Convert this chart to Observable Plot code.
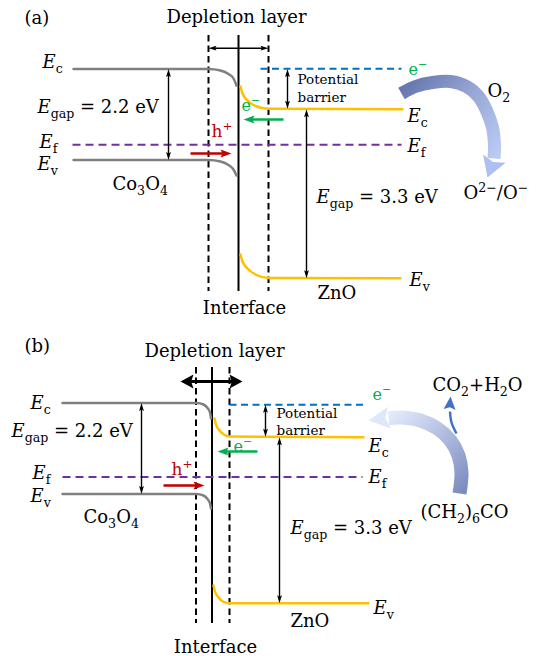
<!DOCTYPE html>
<html><head><meta charset="utf-8">
<script src="https://cdn.jsdelivr.net/npm/d3@7"></script>
<script src="https://cdn.jsdelivr.net/npm/@observablehq/plot@0.6"></script>
<style>html,body{margin:0;padding:0;background:#fff} svg{display:block}</style>
</head><body><div id="chart"></div>
<script>
// ---------- diagram data (diagram coordinates) ----------
// Co3O4 bands (grey), band bending near interface
const co3o4EcA = [[73,68.5],[208,68.5],[220,70],[228,73.5],[233,78],[236,85]];
const co3o4EvA = [[73,159.5],[208,159.5],[220,161],[228,164.5],[233,169],[236,175]];
const co3o4EcB = [[62,402.5],[196,402.5],[203,404],[207,407.5],[209.5,412],[210.5,418]];
const co3o4EvB = [[62,493.5],[196,493.5],[203,495],[207,498.5],[209.5,503],[210.5,508]];
// ZnO bands (yellow)
const znoEcA = [[240,86],[242,93],[247,100],[255,105.5],[268,108.3],[402,108.7]];
const znoEvA = [[240,254],[242,261],[247,268],[255,274],[268,277.5],[400,277.8]];
const znoEcB = [[214,418],[215.5,424],[219,430],[223.5,434],[229,436],[363,436.7]];
const znoEvB = [[213,585],[214.5,591],[218,597],[222.5,601],[229,602.7],[368,602.7]];
// Fermi level and vacuum/e- level (dashed)
const fermiLevels = [{x1:72,y1:144.3,x2:401,y2:144.3},{x1:62,y1:476.5,x2:362,y2:476.5}];
const electronLevels = [{x1:260,y1:68.3,x2:401,y2:68.3},{x1:229,y1:404.3,x2:366,y2:404.3}];
// depletion boundaries and interface
const depletionEdges = [{x:208,y1:35,y2:291},{x:268,y1:35,y2:291},{x:195.5,y1:367,y2:623},{x:229,y1:367,y2:623}];
const interfaces = [{x:238,y1:35,y2:291},{x:211.5,y1:367,y2:623}];
// arrows
const thinArrows = [
  {x1:208,y1:47.7,x2:268,y2:47.7,both:true},
  {x1:168,y1:68.5,x2:168,y2:159.5,both:true},
  {x1:287,y1:68.5,x2:287,y2:108.3,both:true},
  {x1:306,y1:108.7,x2:306,y2:277.8,both:true},
  {x1:141,y1:402.5,x2:141,y2:493.5,both:true},
  {x1:265,y1:404.3,x2:265,y2:436.3,both:true},
  {x1:279,y1:436.7,x2:279,y2:602.7,both:true}
];
const thickArrows = [{x1:180,y1:381,x2:242,y2:381,both:true}];
const holeArrows = [{x1:190,y1:153,x2:231,y2:153},{x1:163,y1:485,x2:204,y2:485}];
const electronArrows = [{x1:283,y1:119,x2:243,y2:119},{x1:257,y1:451,x2:217,y2:451}];
// curved reaction arrows
const oxygenArrow = [[401,93],[415,86],[432,82],[450,81],[466,86],[478,96],[486,110],[492,127],[494,145],[493.5,158]];
const oxygenHead = [{x:487,y:177,angle:200}];
const ketoneArrow = [[459,493],[461,472],[458,455],[450,440],[437,428],[420,420],[402,417],[388,417.5]];
const ketoneHead = [{x:368,y:420,angle:262}];
const productArrow = [[456,433],[451,422],[449.5,411]];
const productHead = [{x:450,y:396,angle:4}];
// labels
const labels = [
  {t:"(a)",x:24,y:18},
  {t:"*E*_{c}",x:42,y:62},
  {t:"*E*_{gap} = 2.2 eV",x:37,y:107},
  {t:"*E*_{f}",x:39,y:142},
  {t:"*E*_{v}",x:37,y:164},
  {t:"Co_{3}O_{4}",x:112,y:184},
  {t:"*E*_{c}",x:407,y:116},
  {t:"*E*_{f}",x:407,y:146},
  {t:"O_{2}",x:487,y:91},
  {t:"*E*_{gap} = 3.3 eV",x:316,y:197},
  {t:"O^{2−}/O^{−}",x:463,y:193},
  {t:"*E*_{v}",x:409,y:280},
  {t:"ZnO",x:317,y:293},
  {t:"(b)",x:24,y:346},
  {t:"*E*_{c}",x:30,y:403},
  {t:"*E*_{gap} = 2.2 eV",x:11,y:431},
  {t:"*E*_{f}",x:32,y:473},
  {t:"*E*_{v}",x:30,y:496},
  {t:"Co_{3}O_{4}",x:83,y:517},
  {t:"*E*_{c}",x:368,y:446},
  {t:"*E*_{f}",x:368,y:477},
  {t:"CO_{2}+H_{2}O",x:432,y:385},
  {t:"(CH_{2})_{6}CO",x:420,y:512},
  {t:"*E*_{gap} = 3.3 eV",x:290,y:528},
  {t:"*E*_{v}",x:373,y:608},
  {t:"ZnO",x:290,y:621}
];
const centeredLabels = [
  {t:"Depletion layer",x:236,y:17},
  {t:"Interface",x:244,y:308},
  {t:"Depletion layer",x:214,y:351},
  {t:"Interface",x:215,y:647}
];
const barrierLabels = [
  {t:"Potential",x:297,y:79},{t:"barrier",x:297,y:97},
  {t:"Potential",x:276,y:413},{t:"barrier",x:276,y:430}
];
const holeLabels = [{t:"h^{+}",x:211,y:131},{t:"h^{+}",x:171,y:469}];
const electronLabels = [{t:"e^{−}",x:241,y:105},{t:"e^{−}",x:408,y:69},{t:"e^{−}",x:233,y:446},{t:"e^{−}",x:372,y:394}];

// ---------- helpers ----------
const rows = (id, pts) => pts.map(([x, y]) => ({id, x, y}));
const makeHead = (len, hw) => ({
  draw(ctx) { ctx.moveTo(0, 0); ctx.lineTo(-hw, len); ctx.lineTo(0, len * 0.82); ctx.lineTo(hw, len); ctx.closePath(); }
});
function arrowMarks(data, {stroke = "black", strokeWidth = 1.3, len = 8, hw = 2.4} = {}) {
  const shafts = [], heads = [];
  for (const d of data) {
    const dx = d.x2 - d.x1, dy = d.y2 - d.y1, L = Math.hypot(dx, dy), ux = dx / L, uy = dy / L;
    const cut = len * 0.7;
    const s = d.both ? [d.x1 + ux * cut, d.y1 + uy * cut] : [d.x1, d.y1];
    shafts.push({x1: s[0], y1: s[1], x2: d.x2 - ux * cut, y2: d.y2 - uy * cut});
    const ang = Math.atan2(ux, -uy) * 180 / Math.PI;
    heads.push({x: d.x2, y: d.y2, a: ang});
    if (d.both) heads.push({x: d.x1, y: d.y1, a: ang + 180});
  }
  return [
    Plot.link(shafts, {x1: "x1", y1: "y1", x2: "x2", y2: "y2", stroke, strokeWidth}),
    Plot.dot(heads, {x: "x", y: "y", rotate: "a", symbol: makeHead(len, hw), fill: stroke, stroke: "none"})
  ];
}
const textOpts = (o) => ({x: "x", y: "y", text: "t", textAnchor: "start", fill: "black", fontSize: 18, ...o});

const W = 546, H = 656;
const svg = Plot.plot({
  width: W, height: H, margin: 0,
  x: {domain: [0, W], range: [0, W], axis: null},
  y: {domain: [0, H], range: [0, H], axis: null},
  style: {fontFamily: "'DejaVu Serif', serif", background: "white"},
  marks: [
    Plot.ruleX(depletionEdges, {x: "x", y1: "y1", y2: "y2", stroke: "black", strokeWidth: 2, strokeDasharray: "6.5,4"}),
    Plot.ruleX(interfaces, {x: "x", y1: "y1", y2: "y2", stroke: "black", strokeWidth: 2}),
    Plot.link(fermiLevels, {x1: "x1", y1: "y1", x2: "x2", y2: "y2", stroke: "#7030a0", strokeWidth: 2, strokeDasharray: "8,5"}),
    Plot.link(electronLevels, {x1: "x1", y1: "y1", x2: "x2", y2: "y2", stroke: "#0070c0", strokeWidth: 2, strokeDasharray: "7,4.5"}),
    Plot.line([...rows("a-Ec", co3o4EcA), ...rows("a-Ev", co3o4EvA), ...rows("b-Ec", co3o4EcB), ...rows("b-Ev", co3o4EvB)],
      {x: "x", y: "y", z: "id", stroke: "#808080", strokeWidth: 2.5, curve: "monotone-x"}),
    Plot.line([...rows("a-Ec", znoEcA), ...rows("a-Ev", znoEvA), ...rows("b-Ec", znoEcB), ...rows("b-Ev", znoEvB)],
      {x: "x", y: "y", z: "id", stroke: "#ffc000", strokeWidth: 2.5, curve: "monotone-x"}),
    ...arrowMarks(thinArrows, {strokeWidth: 1.4, len: 8, hw: 2.4}),
    ...arrowMarks(thickArrows, {strokeWidth: 3, len: 13, hw: 7}),
    ...arrowMarks(holeArrows, {stroke: "#c00000", strokeWidth: 2.5, len: 11, hw: 4}),
    ...arrowMarks(electronArrows, {stroke: "#00b050", strokeWidth: 2.5, len: 11, hw: 4}),
    Plot.line(rows("o2", oxygenArrow), {x: "x", y: "y", stroke: "url(#gradO2)", strokeWidth: 13, strokeLinecap: "butt", curve: "catmull-rom"}),
    Plot.dot(oxygenHead, {x: "x", y: "y", rotate: "angle", symbol: makeHead(20, 12), fill: "#adc0f2", stroke: "none"}),
    Plot.line(rows("k", ketoneArrow), {x: "x", y: "y", stroke: "url(#gradK)", strokeWidth: 14, strokeLinecap: "butt", curve: "catmull-rom"}),
    Plot.dot(ketoneHead, {x: "x", y: "y", rotate: "angle", symbol: makeHead(21, 11), fill: "#dfe8fb", stroke: "none"}),
    Plot.line(rows("p", productArrow), {x: "x", y: "y", stroke: "#4472c4", strokeWidth: 2.5, strokeLinecap: "butt", curve: "catmull-rom"}),
    Plot.dot(productHead, {x: "x", y: "y", rotate: "angle", symbol: makeHead(13, 6), fill: "#4472c4", stroke: "none"}),
    Plot.text(labels, textOpts({})),
    Plot.text(centeredLabels, textOpts({textAnchor: "middle"})),
    Plot.text(barrierLabels, textOpts({fontSize: 13.5})),
    Plot.text(holeLabels, textOpts({fill: "#c00000", fontSize: 17})),
    Plot.text(electronLabels, textOpts({fill: "#00b050", fontSize: 16}))
  ]
});

// gradients for the reaction arrows
const sx = svg.scale("x").apply, sy = svg.scale("y").apply;
const defs = d3.select(svg).insert("defs", ":first-child");
function grad(id, p1, p2, stops) {
  const g = defs.append("linearGradient").attr("id", id).attr("gradientUnits", "userSpaceOnUse")
    .attr("x1", sx(p1[0])).attr("y1", sy(p1[1])).attr("x2", sx(p2[0])).attr("y2", sy(p2[1]));
  for (const [o, c] of stops) g.append("stop").attr("offset", o).attr("stop-color", c);
}
grad("gradO2", [403, 85], [495, 165], [[0, "#6676ae"], [0.5, "#9aaad8"], [1, "#bccdf6"]]);
grad("gradK", [460, 495], [385, 417], [[0, "#7b8bc0"], [1, "#e4ecfb"]]);

document.getElementById("chart").appendChild(svg);

// rich text: *italic*, _{sub}, ^{sup}
function richify(root) {
  const re = /\*([^*]+)\*|_\{([^}]*)\}|\^\{([^}]*)\}|([^*_^]+)/g;
  root.querySelectorAll("text").forEach(el => {
    const s = el.textContent;
    if (!/[*_^]/.test(s)) return;
    const fs = parseFloat(getComputedStyle(el).fontSize) || 16;
    while (el.firstChild) el.removeChild(el.firstChild);
    let off = 0, m;
    re.lastIndex = 0;
    while ((m = re.exec(s))) {
      const t = document.createElementNS("http://www.w3.org/2000/svg", "tspan");
      let target = 0, str, small = false, italic = false;
      if (m[1] !== undefined) { str = m[1]; italic = true; }
      else if (m[2] !== undefined) { str = m[2]; small = true; target = 0.25 * fs; }
      else if (m[3] !== undefined) { str = m[3]; small = true; target = -0.4 * fs; }
      else str = m[4];
      const d = target - off;
      if (d) t.setAttribute("dy", d);
      off = target;
      if (small) t.setAttribute("font-size", 0.7 * fs);
      if (italic) t.setAttribute("font-style", "italic");
      t.textContent = str;
      el.appendChild(t);
    }
  });
}
richify(svg);
</script></body></html>
